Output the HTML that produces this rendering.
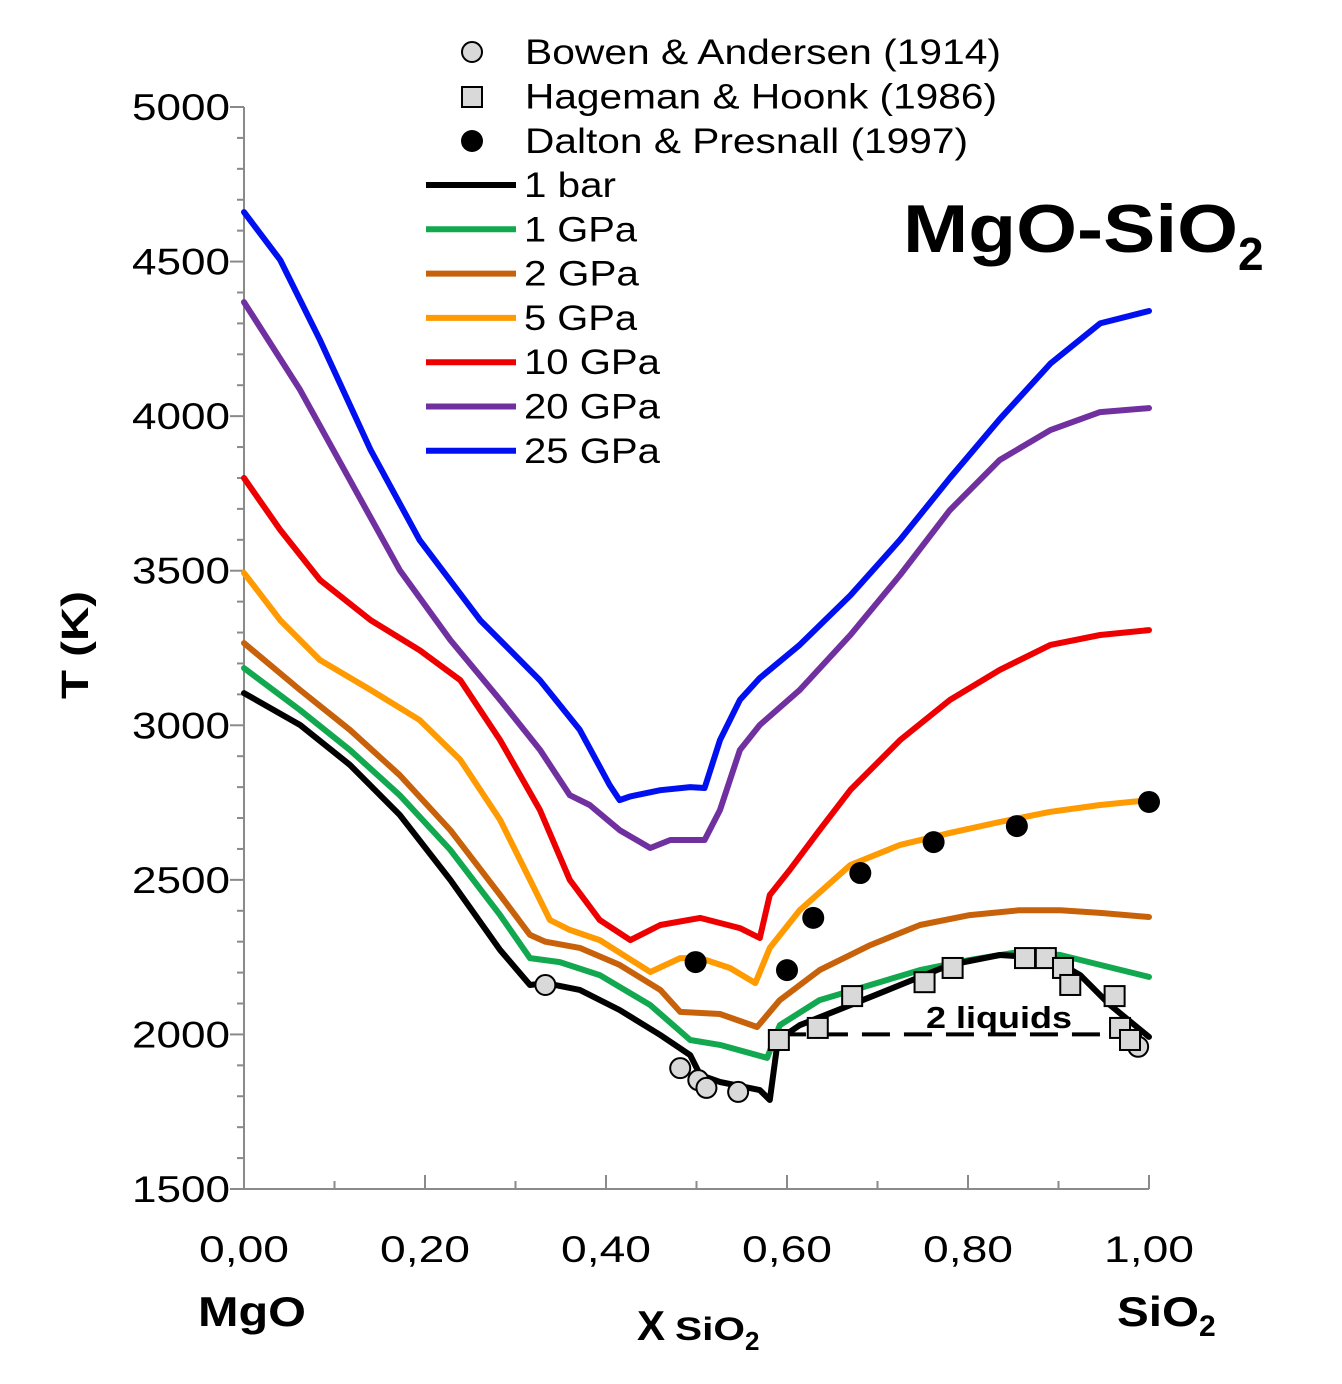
<!DOCTYPE html>
<html><head><meta charset="utf-8"><style>
html,body{margin:0;padding:0;background:#fff;}
svg{display:block;font-family:"Liberation Sans",Arial,sans-serif;}
</style></head><body>
<svg id="chart" width="1342" height="1384" viewBox="0 0 1342 1384">
<g id="axes"></g>
<g id="curves"></g>
<g id="marks"></g>
<text x="903" y="252" font-size="68" font-weight="bold"><tspan textLength="335" lengthAdjust="spacingAndGlyphs">MgO-SiO</tspan><tspan font-size="46" dy="18">2</tspan></text>
<text x="88" y="645" font-size="38" font-weight="bold" text-anchor="middle" transform="rotate(-90 88 645)" textLength="108" lengthAdjust="spacingAndGlyphs">T (K)</text>
<text x="198" y="1326" font-size="42" font-weight="bold" textLength="108" lengthAdjust="spacingAndGlyphs">MgO</text>
<text x="1117" y="1326" font-size="42" font-weight="bold"><tspan textLength="82" lengthAdjust="spacingAndGlyphs">SiO</tspan><tspan font-size="30" dy="10">2</tspan></text>
<text x="637" y="1340" font-size="42" font-weight="bold">X<tspan font-size="32" dx="10" textLength="70" lengthAdjust="spacingAndGlyphs">SiO</tspan><tspan font-size="26" dy="10">2</tspan></text>
<text x="926" y="1028" font-size="31" font-weight="bold" textLength="146" lengthAdjust="spacingAndGlyphs">2 liquids</text>
<g id="legend"></g>
</svg>
<script>
const NS="http://www.w3.org/2000/svg";
const yTicks=[1500,2000,2500,3000,3500,4000,4500,5000];
const xTicks=[0,0.2,0.4,0.6,0.8,1.0];
const xTickLabels=["0,00","0,20","0,40","0,60","0,80","1,00"];
const seriesNames=["1 bar","1 GPa","2 GPa","5 GPa","10 GPa","20 GPa","25 GPa"];
const seriesColors=["#000000","#12a84f","#c8620a","#ff9a00","#ee0000","#7030a0","#0010f0"];
const x1bar=[0,.062,.117,.172,.228,.283,.316,.333,.371,.415,.46,.493,.504,.526,.57,.581,.59,.614,.67,.725,.78,.835,.891,.924,.957,1];
const t1bar=[3104,3001,2872,2710,2500,2273,2160,2166,2144,2079,1998,1933,1869,1846,1820,1788,1982,2030,2095,2160,2225,2257,2247,2192,2095,1992];
const x1=[0,.062,.117,.172,.228,.283,.316,.349,.393,.449,.493,.526,.578,.592,.636,.692,.747,.802,.857,.902,.946,1];
const t1=[3185,3049,2920,2774,2597,2386,2247,2234,2192,2095,1982,1966,1924,2030,2111,2160,2208,2241,2267,2257,2225,2186];
const x2=[0,.062,.117,.172,.228,.283,.316,.333,.371,.415,.46,.482,.526,.567,.592,.636,.692,.747,.802,.857,.902,.946,1];
const t2=[3266,3114,2985,2839,2661,2451,2322,2300,2280,2225,2144,2073,2066,2024,2111,2208,2289,2354,2386,2402,2402,2393,2380];
const x5=[0,.04,.084,.14,.194,.239,.283,.316,.338,.36,.393,.449,.482,.504,.537,.565,.581,.614,.67,.725,.78,.835,.891,.946,1];
const t5=[3493,3340,3211,3114,3017,2888,2694,2500,2370,2338,2305,2202,2247,2247,2215,2166,2280,2402,2548,2613,2652,2687,2720,2742,2758];
const x10=[0,.04,.084,.14,.194,.239,.283,.327,.36,.393,.427,.46,.504,.548,.57,.581,.603,.636,.67,.725,.78,.835,.891,.946,1];
const t10=[3800,3632,3470,3340,3243,3146,2952,2726,2500,2370,2305,2354,2377,2344,2312,2451,2532,2661,2791,2952,3082,3179,3260,3292,3308];
const x20=[0,.062,.117,.172,.228,.283,.327,.36,.382,.415,.449,.471,.509,.526,.548,.57,.614,.67,.725,.78,.835,.891,.946,1];
const t20=[4369,4085,3793,3502,3276,3082,2921,2774,2742,2661,2603,2629,2629,2726,2920,3001,3114,3292,3486,3696,3858,3955,4013,4026];
const x25=[0,.04,.084,.14,.194,.261,.327,.371,.404,.415,.427,.46,.493,.509,.526,.548,.57,.614,.67,.725,.78,.835,.891,.946,1];
const t25=[4660,4505,4246,3890,3599,3340,3146,2985,2807,2758,2770,2790,2800,2797,2952,3082,3153,3260,3420,3600,3800,3990,4170,4300,4340];
const bowenX=[.333,.482,.502,.511,.546,.988];
const bowenT=[2160,1891,1852,1827,1814,1960];
const hagemanX=[.591,.634,.672,.752,.783,.863,.886,.905,.913,.962,.968,.979];
const hagemanT=[1982,2021,2124,2169,2215,2247,2247,2215,2160,2124,2021,1982];
const daltonX=[.499,.6,.629,.681,.762,.854,1.0];
const daltonT=[2234,2208,2377,2522,2622,2674,2752];
const liquidsT=2000, liquidsX0=.59, liquidsX1=1.0;

const X0=244,X1=1149,Y0=1189,Y1=107,TMIN=1500,TMAX=5000;
function sx(v){return X0+(X1-X0)*v;}
function sy(t){return Y0-(Y0-Y1)*(t-TMIN)/(TMAX-TMIN);}
function mk(tag,attrs,parent){const e=document.createElementNS(NS,tag);for(const k in attrs)e.setAttribute(k,attrs[k]);parent.appendChild(e);return e;}
const axes=document.getElementById('axes');
let e=mk('line',{x1:X0,y1:Y1,x2:X0,y2:Y0,stroke:'#8a8a8a','stroke-width':2},axes);


e=mk('line',{x1:X0,y1:Y0,x2:X1,y2:Y0,stroke:'#8a8a8a','stroke-width':2},axes);


for(let t=TMIN;t<=TMAX;t+=100){
  const major=(t%500===0);
  e=mk('line',{x1:major?X0-14:X0-7,y1:sy(t),x2:X0,y2:sy(t),stroke:'#8a8a8a','stroke-width':2},axes);
  
  
}
yTicks.forEach(t=>{
  e=mk('text',{x:132,y:sy(t)+13,'font-size':37,textLength:98,lengthAdjust:'spacingAndGlyphs'},axes);e.textContent=t;
  
  
});
for(let i=0;i<=10;i++){
  const v=i/10;
  e=mk('line',{x1:sx(v),y1:Y0,x2:sx(v),y2:Y0-(i%2===0?14:8),stroke:'#8a8a8a','stroke-width':2},axes);
  
  
}
xTicks.forEach((v,i)=>{
  e=mk('text',{x:sx(v)-45,y:1262,'font-size':37,textLength:90,lengthAdjust:'spacingAndGlyphs'},axes);e.textContent=xTickLabels[i];
  
  
});
const curves=document.getElementById('curves');
const allX=[x1bar,x1,x2,x5,x10,x20,x25], allT=[t1bar,t1,t2,t5,t10,t20,t25];
for(let s=allX.length-1;s>=0;s--){
  const d=allX[s].map((v,i)=>(i?'L':'M')+sx(v).toFixed(1)+' '+sy(allT[s][i]).toFixed(1)).join(' ');
  e=mk('path',{d:d,fill:'none',stroke:seriesColors[s],'stroke-width':6,'stroke-linejoin':'round','stroke-linecap':'round'},curves);
  
  
}
e=mk('line',{x1:sx(liquidsX0),y1:sy(liquidsT),x2:sx(liquidsX1),y2:sy(liquidsT),stroke:'#000','stroke-width':4,'stroke-dasharray':'28 14'},curves);


const marks=document.getElementById('marks');
bowenX.forEach((v,i)=>{
  e=mk('circle',{cx:sx(v),cy:sy(bowenT[i]),r:10,fill:'#d9d9d9',stroke:'#000','stroke-width':2},marks);
  
  
});
hagemanX.forEach((v,i)=>{
  e=mk('rect',{x:sx(v)-10,y:sy(hagemanT[i])-10,width:20,height:20,fill:'#d9d9d9',stroke:'#000','stroke-width':2},marks);
  
  
});
daltonX.forEach((v,i)=>{
  e=mk('circle',{cx:sx(v),cy:sy(daltonT[i]),r:11,fill:'#000'},marks);
  
  
});
const lg=document.getElementById('legend');
e=mk('circle',{cx:472,cy:52,r:10,fill:'#d9d9d9',stroke:'#000','stroke-width':2},lg);


e=mk('rect',{x:462,y:87,width:20,height:20,fill:'#d9d9d9',stroke:'#000','stroke-width':2},lg);


e=mk('circle',{cx:472,cy:141,r:11,fill:'#000'},lg);


const refNames=["Bowen & Andersen (1914)","Hageman & Hoonk (1986)","Dalton & Presnall (1997)"];
const refLens=[476,472,443];
refNames.forEach((n,i)=>{
  e=mk('text',{x:525,y:64+i*44.5,'font-size':35,textLength:refLens[i],lengthAdjust:'spacingAndGlyphs'},lg);e.textContent=n;
  
  
});
const serLens=[92,113,115,113,136,136,136];
seriesNames.forEach((n,i)=>{
  const y=185+i*44.3;
  e=mk('line',{x1:426,y1:y,x2:516,y2:y,stroke:seriesColors[i],'stroke-width':6},lg);
  
  
  e=mk('text',{x:524,y:y+12,'font-size':35,textLength:serLens[i],lengthAdjust:'spacingAndGlyphs'},lg);e.textContent=n;
  
  
});
</script>
</body></html>
